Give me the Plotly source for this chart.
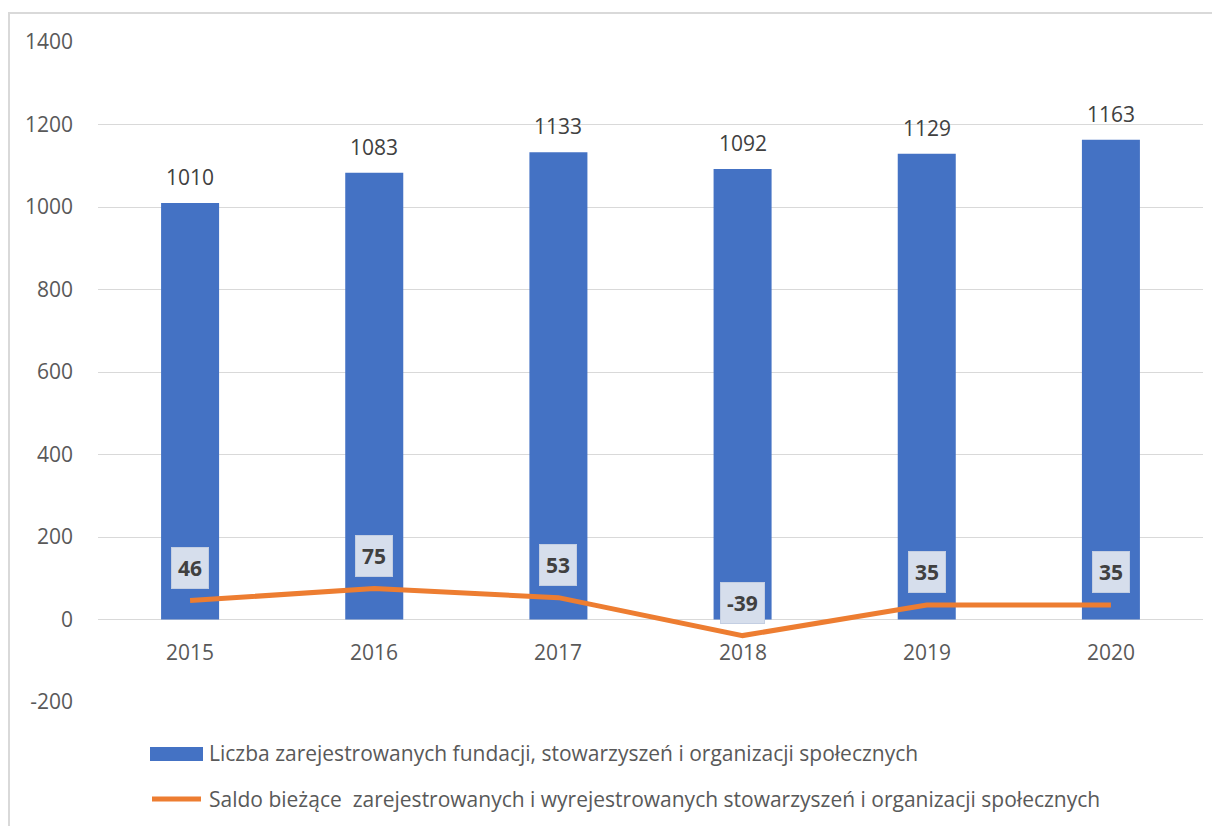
import plotly.graph_objects as go

years = ["2015", "2016", "2017", "2018", "2019", "2020"]
registered = [1010, 1083, 1133, 1092, 1129, 1163]
balance = [46, 75, 53, -39, 35, 35]
y_ticks = [-200, 0, 200, 400, 600, 800, 1000, 1200, 1400]
y_tick_text = ["-200", "0", "200", "400", "600", "800", "1000", "1200", "1400"]
legend_bar = "Liczba zarejestrowanych fundacji, stowarzyszeń i organizacji społecznych"
legend_line = "Saldo bieżące  zarejestrowanych i wyrejestrowanych stowarzyszeń i organizacji społecznych"

BLUE = "#4472C4"
ORANGE = "#ED7D31"
FONT = "Open Sans"
TXT = "#595959"
FS = 21

OFF = 8  # page body margin
W, H = 1220 - OFF, 826 - OFF
L, R, T, B = 98 - OFF, 17, 42 - OFF, 124
pw, ph = W - L - R, H - T - B

def px(x):
    return (x - OFF - L) / pw

def py(y):
    return (H - B - (y - OFF)) / ph

fig = go.Figure()
fig.add_trace(go.Bar(
    x=years, y=registered, marker_color=BLUE, marker_line_width=0,
    showlegend=False, name=legend_bar,
))
fig.add_trace(go.Scatter(
    x=years, y=balance, mode="lines",
    line=dict(color=ORANGE, width=5), showlegend=False, name=legend_line,
))

ann = []
for i, v in enumerate(registered):
    ann.append(dict(
        x=i, y=v, xref="x", yref="y", text=str(v), showarrow=False,
        yanchor="middle", yshift=26,
        font=dict(family=FONT, size=FS, color="#404040"),
    ))
for i, v in enumerate(balance):
    ann.append(dict(
        x=i, y=v, xref="x", yref="y", text=f"<b>{v}</b>", showarrow=False,
        yshift=33, bgcolor="#D6DEEC", bordercolor="#C3CEE2", borderwidth=1,
        borderpad=6, font=dict(family=FONT, size=FS, color="#404040"),
    ))
for i, yr in enumerate(years):
    ann.append(dict(
        x=i, y=0, xref="x", yref="y", text=yr, showarrow=False,
        yshift=-32, font=dict(family=FONT, size=FS, color=TXT),
    ))
ann.append(dict(x=px(207), y=py(753), xref="paper", yref="paper", text=legend_bar,
                showarrow=False, xanchor="left", yanchor="middle",
                font=dict(family=FONT, size=FS, color=TXT)))
ann.append(dict(x=px(207), y=py(799), xref="paper", yref="paper", text=legend_line,
                showarrow=False, xanchor="left", yanchor="middle",
                font=dict(family=FONT, size=FS, color=TXT)))

shapes = [
    dict(type="rect", xref="paper", yref="paper", x0=px(9), x1=px(1240),
         y0=py(860), y1=py(13), line=dict(color="#D9D9D9", width=2), layer="below"),
    dict(type="rect", xref="paper", yref="paper", x0=px(150), x1=px(203),
         y0=py(761), y1=py(747), fillcolor=BLUE, line=dict(width=0)),
    dict(type="line", xref="paper", yref="paper", x0=px(152), x1=px(201),
         y0=py(799), y1=py(799), line=dict(color=ORANGE, width=5)),
]

fig.update_layout(
    width=W, height=H, margin=dict(l=L, r=R, t=T, b=B),
    paper_bgcolor="white", plot_bgcolor="white",
    bargap=0.685, annotations=ann, shapes=shapes,
    font=dict(family=FONT, color=TXT),
)
fig.update_xaxes(type="category", range=[-0.5, len(years) - 0.5],
                 showticklabels=False, showgrid=False,
                 zeroline=False, showline=False, ticks="")
fig.update_yaxes(range=[-200, 1400], tickvals=y_ticks, ticktext=y_tick_text,
                 showgrid=True, gridcolor="#D9D9D9", gridwidth=1, zeroline=True,
                 zerolinecolor="#D9D9D9", zerolinewidth=1, showline=False,
                 ticks="", ticklabelstandoff=24,
                 tickfont=dict(family=FONT, size=FS, color=TXT))

fig.write_html("out.html")
